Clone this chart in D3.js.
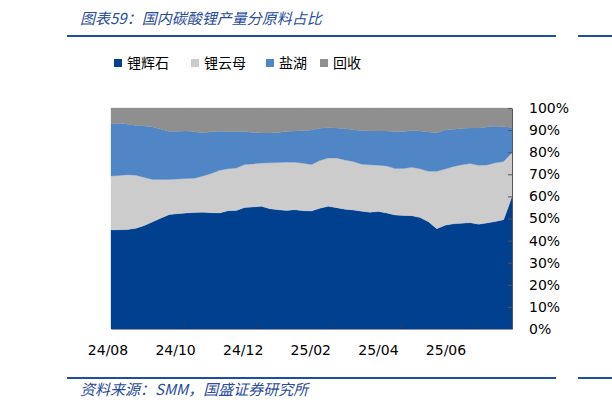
<!DOCTYPE html>
<html><head><meta charset="utf-8">
<script src="https://cdn.jsdelivr.net/npm/d3@7"></script>
<style>
html,body{margin:0;padding:0;background:#fff;}
svg{display:block;}
</style>
</head><body>
<script>
// ---------- data ----------
const seriesNames = ["锂辉石", "锂云母", "盐湖", "回收"];
const seriesColors = ["#00408f", "#cccccc", "#5086c6", "#8f8f8f"];
const startDate = "2024-08-01";   // weekly observations
const spodumene = [44.8,44.9,45.0,45.6,46.8,48.5,50.2,51.8,52.2,52.5,52.7,52.8,52.6,52.5,53.5,53.6,55.0,55.2,55.5,54.4,54.0,53.6,54.0,53.5,53.4,54.6,55.5,54.9,54.2,53.8,53.3,52.8,53.2,52.5,51.6,51.4,51.3,50.4,48.5,45.4,47.0,47.6,47.9,48.1,47.4,48.0,48.6,49.4,59.9];
const lepidolite = [24.4,24.6,24.8,24.0,21.7,19.2,17.5,15.9,15.7,15.6,15.5,16.4,17.8,19.3,19.0,19.2,19.4,19.5,19.6,20.8,21.3,21.9,21.5,21.5,21.0,21.6,21.9,22.5,22.3,22.0,21.3,21.5,20.9,21.3,21.0,21.2,21.9,22.1,22.9,26.0,25.4,25.9,26.4,26.8,26.7,26.2,26.6,26.4,19.9];
const saltLake = [23.6,23.6,22.8,22.5,23.4,23.7,22.7,21.7,21.6,21.5,21.0,19.6,18.8,17.7,16.8,16.5,15.0,14.2,13.6,13.5,13.6,13.9,14.1,14.7,15.7,14.6,13.7,13.6,14.1,14.4,15.1,15.3,15.5,15.8,16.6,16.8,16.6,17.1,17.7,17.4,17.6,16.9,16.4,16.0,16.9,17.2,16.5,15.7,11.4];
const recycling = [7.2,6.9,7.4,7.9,8.1,8.6,9.6,10.6,10.5,10.4,10.8,11.2,10.8,10.5,10.7,10.7,10.6,11.1,11.3,11.3,11.1,10.6,10.4,10.3,9.9,9.2,8.9,9.0,9.4,9.8,10.3,10.4,10.4,10.4,10.8,10.6,10.2,10.4,10.9,11.2,10.0,9.6,9.3,9.1,9.0,8.6,8.3,8.5,8.8];
const xTickDates = ["2024-10-01","2024-12-01","2025-02-01","2025-04-01","2025-06-01"];
const xLabels = ["24/08","24/10","24/12","25/02","25/04","25/06"];
const yTicks = [0,0.1,0.2,0.3,0.4,0.5,0.6,0.7,0.8,0.9,1.0];
const titleText = "图表59：国内碳酸锂产量分原料占比";
const sourceText = "资料来源：SMM，国盛证券研究所";

// ---------- build table ----------
const parse = d3.timeParse("%Y-%m-%d");
const t0 = parse(startDate);
const rows = spodumene.map((v, i) => ({
  date: d3.timeDay.offset(t0, i * 7),
  "锂辉石": v, "锂云母": lepidolite[i], "盐湖": saltLake[i], "回收": recycling[i]
}));

const W = 612, H = 410;
const svg = d3.select("body").append("svg").attr("width", W).attr("height", H);

const plot = {left: 111, right: 512, top: 108, bottom: 329};
const x = d3.scaleTime().domain(d3.extent(rows, d => d.date)).range([plot.left, plot.right]);
const y = d3.scaleLinear().domain([0, 1]).range([plot.bottom, plot.top]);
const color = d3.scaleOrdinal(seriesNames, seriesColors);

const stacked = d3.stack().keys(seriesNames).offset(d3.stackOffsetExpand)(rows);
const area = d3.area().x(d => x(d.data.date)).y0(d => y(d[0])).y1(d => y(d[1]));

svg.append("g").selectAll("path").data(stacked).join("path")
  .attr("d", area).attr("fill", d => color(d.key)).attr("stroke", d => color(d.key)).attr("stroke-width", 0.3);

// right axis
const yAxis = d3.axisRight(y).tickValues(yTicks).tickFormat(d3.format(".0%")).tickSizeInner(-4).tickSizeOuter(0).tickPadding(17);
const gy = svg.append("g").attr("transform", `translate(${plot.right},0)`).call(yAxis);
gy.select(".domain").attr("stroke", "#555").attr("stroke-width", 1);
gy.selectAll(".tick line").attr("stroke", "#555");
gy.selectAll("text").attr("fill", "#000").style("font-family", "DejaVu Sans, Verdana, sans-serif").style("font-size", "14px").attr("text-anchor", "start");

// bottom axis (ticks inward)
const xAxis = d3.axisBottom(x).tickValues(xTickDates.map(parse)).tickSizeInner(-5).tickSizeOuter(0).tickFormat("");
const gx = svg.append("g").attr("transform", `translate(0,${plot.bottom})`).call(xAxis);
gx.select(".domain").attr("stroke", "#8a96b0").attr("stroke-width", 1.2);
gx.selectAll(".tick line").attr("stroke", "#2b3a5e");

// x labels
const xl = d3.scalePoint().domain(xLabels).range([108, 446]);
svg.append("g").selectAll("text").data(xLabels).join("text")
  .attr("x", d => xl(d)).attr("y", 355).attr("text-anchor", "middle")
  .style("font-family", "DejaVu Sans, Verdana, sans-serif").style("font-size", "14px").attr("fill", "#000")
  .text(d => d);

// legend
const legendX = [114, 191, 266, 320];
const lg = svg.append("g").selectAll("g").data(seriesNames).join("g")
  .attr("transform", (d, i) => `translate(${legendX[i]},59)`);
lg.append("rect").attr("width", 8).attr("height", 8).attr("fill", d => color(d));
lg.append("text").attr("x", 13).attr("y", 8.5)
  .style("font-family", "Noto Sans CJK SC, sans-serif").style("font-size", "14px").attr("fill", "#000")
  .text(d => d);

// title & rules
svg.append("text").attr("x", 80).attr("y", 24)
  .style("font-family", "Noto Sans CJK SC, sans-serif").style("font-size", "15px").style("font-style", "italic")
  .attr("fill", "#2a4c9c").text(titleText);
svg.append("text").attr("x", 80).attr("y", 395)
  .style("font-family", "Noto Sans CJK SC, sans-serif").style("font-size", "15px").style("font-style", "italic")
  .attr("fill", "#2a4c9c").text(sourceText);

[36, 378].forEach(yy => {
  svg.append("line").attr("x1", 67).attr("x2", 556).attr("y1", yy).attr("y2", yy).attr("stroke", "#1f4ea0").attr("stroke-width", 2);
  svg.append("line").attr("x1", 578).attr("x2", 612).attr("y1", yy).attr("y2", yy).attr("stroke", "#1f4ea0").attr("stroke-width", 2);
});
</script>
</body></html>
